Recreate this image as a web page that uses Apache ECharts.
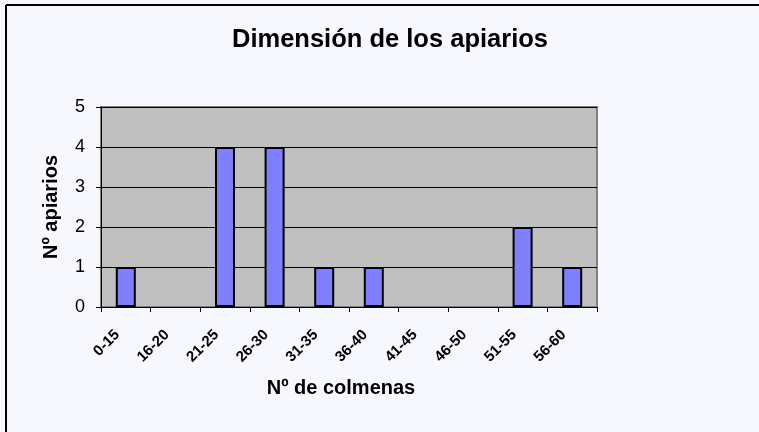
<!DOCTYPE html>
<html>
<head>
<meta charset="utf-8">
<script src="https://cdn.jsdelivr.net/npm/echarts@6/dist/echarts.min.js"></script>
<style>
  html, body { margin: 0; padding: 0; background: #f7f8fe; }
  #chart { width: 759px; height: 432px; }
</style>
</head>
<body>
<div id="chart"></div>
<script>
  const categories = ['0-15', '16-20', '21-25', '26-30', '31-35', '36-40', '41-45', '46-50', '51-55', '56-60'];
  const apiarios = [1, 0, 4, 4, 1, 1, 0, 0, 2, 1];

  const chart = echarts.init(document.getElementById('chart'));
  const font = 'Liberation Sans, Arial, sans-serif';

  // empty classes get no outline
  const barData = apiarios.map(v => v === 0 ? { value: v, itemStyle: { borderWidth: 0 } } : v);

  chart.setOption({
    backgroundColor: '#f7f8fe',
    animation: false,
    title: {
      text: 'Dimensión de los apiarios',
      left: 385,
      textAlign: 'center',
      top: 22,
      textStyle: { fontFamily: font, fontSize: 25.5, fontWeight: 'bold', color: '#000' }
    },
    graphic: [
      { type: 'line', shape: { x1: 6, y1: 5, x2: 759, y2: 5 }, style: { stroke: '#000', lineWidth: 2 } },
      { type: 'line', shape: { x1: 6, y1: 5, x2: 6, y2: 432 }, style: { stroke: '#000', lineWidth: 2 } }
    ],
    grid: {
      left: 101,
      right: 162,
      top: 107,
      bottom: 125,
      show: true,
      backgroundColor: '#c0c0c0',
      borderColor: '#808080',
      borderWidth: 2
    },
    xAxis: {
      type: 'category',
      data: categories,
      name: 'Nº de colmenas',
      nameLocation: 'middle',
      nameGap: 71,
      nameTextStyle: { fontFamily: font, fontSize: 20, fontWeight: 'bold', color: '#000', padding: [0, 16, 0, 0] },
      axisLine: { lineStyle: { color: '#000', width: 1 } },
      axisTick: { show: true, length: 5, lineStyle: { color: '#000' } },
      axisLabel: {
        rotate: 45,
        interval: 0,
        margin: 17,
        padding: [0, 12, 0, 0],
        fontFamily: font,
        fontSize: 15,
        fontWeight: 'bold',
        color: '#000'
      },
      splitLine: { show: false }
    },
    yAxis: {
      type: 'value',
      min: 0,
      max: 5,
      interval: 1,
      name: 'Nº apiarios',
      nameLocation: 'middle',
      nameGap: 40,
      nameTextStyle: { fontFamily: font, fontSize: 20, fontWeight: 'bold', color: '#000' },
      axisLine: { show: true, lineStyle: { color: '#000', width: 1 } },
      axisTick: { show: true, length: 5, lineStyle: { color: '#000' } },
      axisLabel: { fontFamily: font, fontSize: 18, color: '#000', margin: 16 },
      splitLine: { show: true, lineStyle: { color: '#000', width: 1 } }
    },
    series: [{
      type: 'bar',
      data: barData,
      barWidth: 20,
      itemStyle: {
        color: '#8080ff',
        borderColor: '#000',
        borderWidth: 2
      }
    }]
  });
</script>
</body>
</html>
